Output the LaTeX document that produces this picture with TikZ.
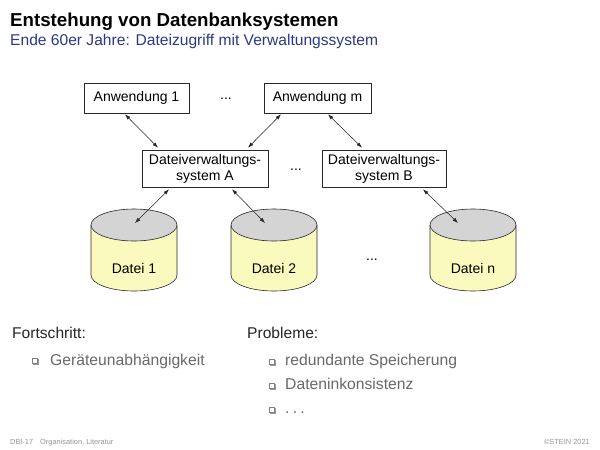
\documentclass[tikz,border=0pt]{standalone}
\usepackage{fontspec}
\setmainfont{Liberation Sans}
\usetikzlibrary{arrows.meta,calc}
\definecolor{subblue}{RGB}{46,56,135}
\definecolor{itemgray}{RGB}{105,105,105}
\definecolor{footgray}{RGB}{150,150,150}
\definecolor{drumyellow}{RGB}{250,250,190}
\definecolor{drumgray}{RGB}{212,212,212}
\definecolor{linegray}{RGB}{40,40,40}
\begin{document}
\begin{tikzpicture}[x=1pt,y=-1pt,
  box/.style={draw=linegray, line width=0.6pt, fill=white, inner sep=0pt,
    font=\fontsize{14}{16}\selectfont, align=center},
  arr/.style={{Latex[length=5.5pt,width=3.8pt]}-{Latex[length=5.5pt,width=3.8pt]},
    line width=0.55pt, linegray},
  txt/.style={inner sep=0pt, anchor=base west},
  dots/.style={inner sep=0pt, font=\fontsize{14}{16}\selectfont},
  drumline/.style={draw=linegray, line width=0.6pt},
  bulletbox/.style={fill=white, draw=black!50, line width=0.4pt},
  bulletshadow/.style={fill=black!40}
]
\useasboundingbox (0,0) rectangle (600,450);
\fill[white] (0,0) rectangle (600,450);

% title
\node[txt, font=\fontsize{18.7}{20}\selectfont\bfseries] (title) at (10,26) {Entstehung von Datenbanksystemen};
\node[txt, font=\fontsize{15.6}{17}\selectfont, text=subblue] (subtitle) at (10,45) {Ende 60er Jahre: Dateizugriff mit Verwaltungssystem};

% boxes
\node[box, minimum width=105, minimum height=30] (a1) at (136.5,98) {Anwendung 1};
\node[box, minimum width=107, minimum height=30] (am) at (317.5,98) {Anwendung m};
\node[box, minimum width=126, minimum height=37] (dvsa) at (205,168.5) {Dateiverwaltungs-\\system A};
\node[box, minimum width=124, minimum height=37] (dvsb) at (384,168.5) {Dateiverwaltungs-\\system B};

\node[dots] (dots1) at (226,99) {...};
\node[dots] (dots2) at (296,170) {...};
\node[dots] (dots3) at (372,260) {...};

% drums
\foreach \cx/\nm/\lab in {134/d1/Datei 1, 274/d2/Datei 2, 473/dn/Datei n} {
  \fill[drumyellow] (\cx-43,225) -- (\cx-43,275)
     arc[start angle=180, end angle=0, x radius=43, y radius=16] -- (\cx+43,225) -- cycle;
  \draw[drumline] (\cx-43,225) -- (\cx-43,275)
     arc[start angle=180, end angle=0, x radius=43, y radius=16] -- (\cx+43,225);
  \filldraw[drumline, fill=drumgray] (\cx,225) ellipse[x radius=43, y radius=16];
  \node[inner sep=0pt, font=\fontsize{14}{16}\selectfont] (\nm) at (\cx,268) {\lab};
}
\coordinate (d1top) at (135,223);
\coordinate (d2top) at (265,223);
\coordinate (dntop) at (458,223);

% arrows
\draw[arr] ([xshift=-11.5pt,yshift=-1pt]a1.south) -- ([xshift=-47pt,yshift=2pt]dvsa.north);
\draw[arr] ([xshift=-36.5pt,yshift=-1pt]am.south) -- ([xshift=43pt,yshift=2pt]dvsa.north);
\draw[arr] ([xshift=10.5pt,yshift=-1pt]am.south) -- ([xshift=-22pt,yshift=2pt]dvsb.north);
\draw[arr] ([xshift=-36pt,yshift=-2pt]dvsa.south) -- (d1top);
\draw[arr] ([xshift=27pt,yshift=-2pt]dvsa.south) -- (d2top);
\draw[arr] ([xshift=39pt,yshift=-2pt]dvsb.south) -- (dntop);

% lower text
\node[txt, font=\fontsize{15.6}{17}\selectfont, text=black!85] (fort) at (12,338) {Fortschritt:};
\node[txt, font=\fontsize{15.6}{17}\selectfont, text=black!85] (prob) at (247,338) {Probleme:};

\node[txt, font=\fontsize{15.7}{17}\selectfont, text=itemgray] (g1) at (50,365) {Geräteunabhängigkeit};
\node[txt, font=\fontsize{15.7}{17}\selectfont, text=itemgray] (p1) at (285,365) {redundante Speicherung};
\node[txt, font=\fontsize{15.7}{17}\selectfont, text=itemgray] (p2) at (285,389) {Dateninkonsistenz};
\node[txt, font=\fontsize{15.7}{17}\selectfont, text=itemgray] (p3) at (285,413) {.\hspace{3.2pt}.\hspace{3.2pt}.};

% bullets
\foreach \bx/\by in {32/358, 269/359, 269/383, 269/407} {
  \fill[bulletshadow] (\bx+1,\by+1) rectangle ++(5.5,5.5);
  \filldraw[bulletbox] (\bx,\by) rectangle ++(5.5,5.5);
}

% footer
\node[txt, font=\fontsize{7.4}{8}\selectfont, text=footgray] (foot1) at (10,444) {DBI-17\hspace{7pt}Organisation, Literatur};
\node[inner sep=0pt, anchor=base east, font=\fontsize{7.4}{8}\selectfont, text=footgray] (foot2) at (590,444) {©STEIN 2021};
\end{tikzpicture}
\end{document}
